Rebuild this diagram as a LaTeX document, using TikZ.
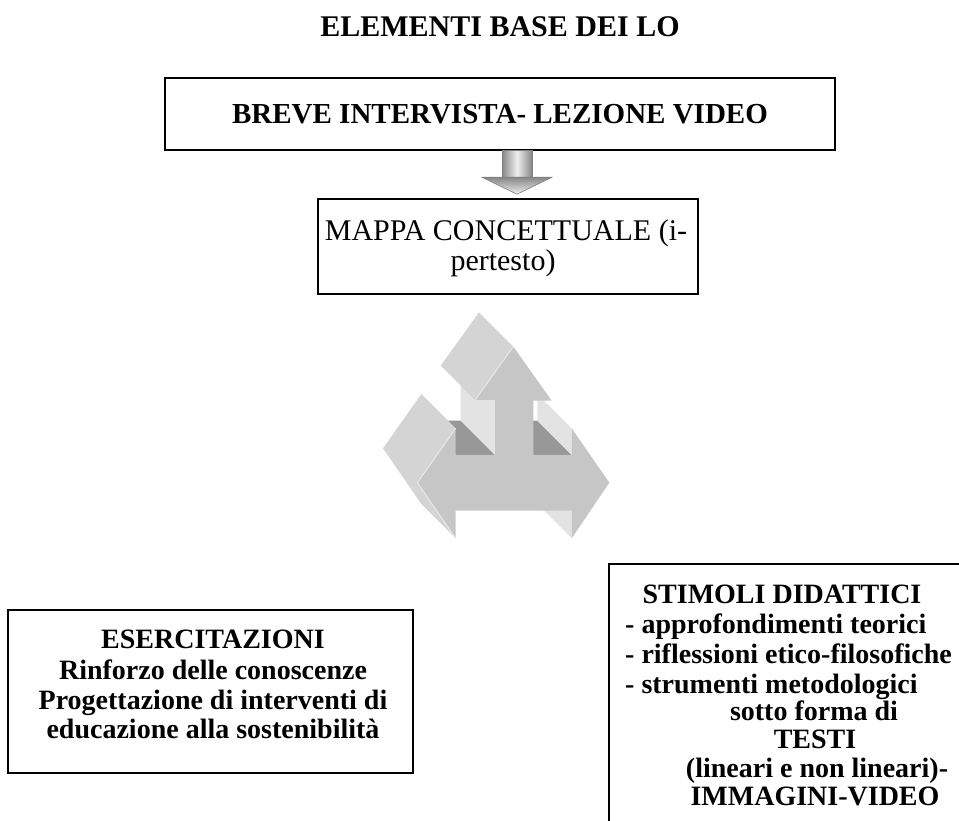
\documentclass[tikz,border=0pt]{standalone}
\usepackage{fontspec}
\setmainfont{Liberation Serif}
\usetikzlibrary{calc}
\definecolor{frontgray}{RGB}{198,198,198}
\definecolor{headgray}{RGB}{212,212,212}
\definecolor{lightface}{RGB}{227,227,227}
\definecolor{darkface}{RGB}{152,152,152}
\definecolor{arrdark}{RGB}{135,135,135}
\definecolor{arrlight}{RGB}{238,238,238}
\tikzset{
  boxstyle/.style={draw=black, line width=1.5pt, rectangle, inner sep=0pt},
  txt/.style={font=\fontsize{28}{30}\selectfont\bfseries, inner sep=0pt},
  txtreg/.style={font=\fontsize{30}{33}\selectfont, inner sep=0pt},
}
\begin{document}
\begin{tikzpicture}[x=1pt,y=-1pt]
\useasboundingbox (0,0) rectangle (959,821);
\clip (0,0) rectangle (959,821);

% title
\node[txt, font=\fontsize{30}{33}\selectfont\bfseries, anchor=base] (title) at (500,37) {ELEMENTI BASE DEI LO};

% box 1
\node[boxstyle, minimum width=670, minimum height=72] (box1) at (500,114) {};
\node[txt, font=\fontsize{29}{32}\selectfont\bfseries, anchor=base] (t1) at (500,124) {BREVE INTERVISTA- LEZIONE VIDEO};

% box 2
\node[boxstyle, minimum width=380, minimum height=95] (box2) at (508,246.5) {};
\node[txtreg, anchor=base] (t2a) at (506,241) {MAPPA CONCETTUALE (i-};
\node[txtreg, anchor=base] (t2b) at (503,271) {pertesto)};

% small arrow between box1 and box2
\coordinate (as) at ($(box1.south)+(17,0)$);
\coordinate (ae) at (as |- box2.north);
\fill[left color=arrdark, right color=arrdark, middle color=arrlight, draw=gray, line width=0.6pt]
  ($(as)+(-15,0)$) rectangle ($(ae)+(15,-21)$);
\shade[top color=arrdark, bottom color=arrlight, draw=gray, line width=0.6pt]
  ($(ae)+(-35,-21)$) -- ($(ae)+(35,-21)$) -- ($(ae)+(0,-4)$) -- cycle;

% 3D arrow
\begin{scope}[shift={(360,300)}, x=0.33333pt, y=-0.33333pt]
  \fill[darkface] (287,465) -- (405,465) -- (302,362) -- (184,362) -- cycle;
  \fill[darkface] (520,465) -- (635,465) -- (532,362) -- (417,362) -- cycle;
  \fill[lightface] (405,300) -- (405,465) -- (302,362) -- (302,197) -- cycle;
  \fill[lightface] (635,385) -- (635,465) -- (532,362) -- (532,282) -- cycle;
  \fill[lightface] (635,632) -- (635,715) -- (532,612) -- (532,529) -- cycle;
  \fill[headgray] (172,548) -- (287,715) -- (184,612) -- (69,445) -- cycle;
  \fill[headgray] (172,548) -- (287,385) -- (184,282) -- (69,445) -- cycle;
  \fill[headgray] (345,300) -- (460,140) -- (357,37) -- (242,197) -- cycle;
  \fill[frontgray] (460,140) -- (575,302) -- (520,302) -- (520,465) -- (635,465) -- (635,385)
    -- (748,548) -- (635,715) -- (635,632) -- (287,632) -- (287,715) -- (172,548)
    -- (287,385) -- (287,465) -- (405,465) -- (405,300) -- (345,300) -- cycle;
  \draw[white!70!frontgray, line width=0.8pt] (287,385) -- (172,548) -- (287,715);
  \draw[white!70!frontgray, line width=0.8pt] (345,300) -- (460,140);
\end{scope}

% box 3
\node[boxstyle, minimum width=405, minimum height=163] (box3) at (210.5,691.5) {};
\node[txt, anchor=base] (e1) at (213,648) {ESERCITAZIONI};
\node[txt, anchor=base] (e2) at (213,679) {Rinforzo delle conoscenze};
\node[txt, anchor=base] (e3) at (213,709) {Progettazione di interventi di};
\node[txt, anchor=base] (e4) at (213,738) {educazione alla sostenibilità};

% box 4 (runs past the page edge)
\node[boxstyle, minimum width=372, minimum height=290, anchor=north west] (box4) at (608,563) {};
\node[txt, anchor=base] (s1) at (782,603) {STIMOLI DIDATTICI};
\node[txt, anchor=base west] (s2) at (625,633) {- approfondimenti teorici};
\node[txt, anchor=base west] (s3) at (625,663) {- riflessioni etico-filosofiche};
\node[txt, anchor=base west] (s4) at (625,693) {- strumenti metodologici};
\node[txt, anchor=base] (s5) at (814,720) {sotto forma di};
\node[txt, anchor=base] (s6) at (815,748) {TESTI};
\node[txt, anchor=base] (s7) at (817,777) {(lineari e non lineari)-};
\node[txt, anchor=base] (s8) at (815,805) {IMMAGINI-VIDEO};
\end{tikzpicture}
\end{document}
